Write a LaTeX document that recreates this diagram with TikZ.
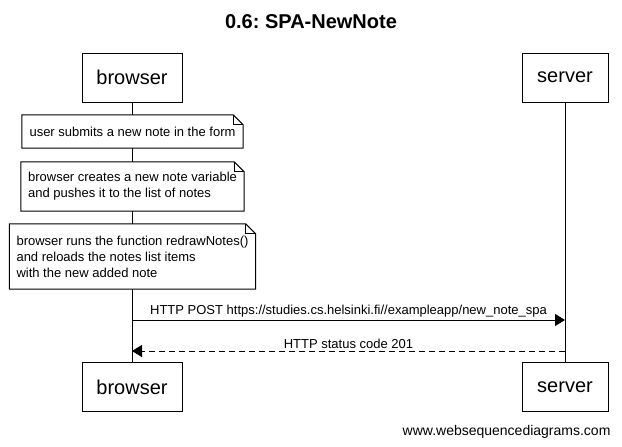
\documentclass[tikz,border=0pt]{standalone}
\usepackage{fontspec}
\setmainfont{Liberation Sans}
\usetikzlibrary{arrows.meta}
\usetikzlibrary{positioning}
\frenchspacing

\tikzset{
  actor/.style={draw, line width=1pt, minimum height=49pt, inner sep=0pt, font=\fontsize{20}{24}\selectfont},
  note/.style={fill=white, inner xsep=7pt, inner ysep=0pt, align=left, font=\fontsize{13}{16}\selectfont},
  msg/.style={line width=1pt, -{Triangle[length=10pt,width=12pt]}},
  reply/.style={msg, dash pattern=on 6pt off 4pt},
  msglabel/.style={font=\fontsize{13}{16}\selectfont, inner sep=2pt}
}

% outline of a note with a folded corner
\newcommand{\dogear}[1]{%
  \draw[line width=1pt] (#1.north west) -- ([xshift=-10pt]#1.north east) -- ([yshift=-10pt]#1.north east) -- (#1.south east) -- (#1.south west) -- cycle;
  \draw[line width=1pt] ([xshift=-10pt]#1.north east) -- ([xshift=-10pt,yshift=-10pt]#1.north east) -- ([yshift=-10pt]#1.north east);}

\begin{document}
\begin{tikzpicture}[x=1pt,y=1pt]
        \useasboundingbox (0,0) rectangle (622,-447);
        \node[font=\bfseries\fontsize{20}{24}\selectfont] (title) at (311,-22) {0.6: SPA-NewNote};
        % participants
        \node[actor, minimum width=100pt] (browserTop) at (132,-77.5) {browser};
        \node[actor, minimum width=86pt] (serverTop) at (565,-77.5) {server};
        \node[actor, minimum width=100pt] (browserBot) at (132,-387) {browser};
        \node[actor, minimum width=86pt] (serverBot) at (565,-387) {server};
        \draw[line width=1pt] (browserTop) -- (browserBot);
        \draw[line width=1pt] (serverTop) -- (serverBot);
        % notes
        \node[note, minimum width=221pt, minimum height=33pt] (noteSubmit) at (132.5,-131.5) {user submits a new note in the form};
        \dogear{noteSubmit}
        \node[note, minimum width=221pt, minimum height=49pt] (noteCreate) at (132.5,-186.5) {browser creates a new note variable\\and pushes it to the list of notes};
        \dogear{noteCreate}
        \node[note, minimum width=243pt, minimum height=65pt] (noteRedraw) at (132.5,-256.5) {browser runs the function redrawNotes()\\and reloads the notes list items\\with the new added note};
        \dogear{noteRedraw}
        % messages
        \coordinate (postFrom) at (132,-320);
        \coordinate (postTo) at (565,-320);
        \coordinate (replyFrom) at (565,-351);
        \coordinate (replyTo) at (132,-351);
        \draw[msg] (postFrom) -- node[msglabel, above] {HTTP POST https://studies.cs.helsinki.fi//exampleapp/new\_note\_spa} (postTo);
        \draw[reply] (replyFrom) -- node[msglabel, above] {HTTP status code 201} (replyTo);
        \node[font=\fontsize{14}{16}\selectfont, anchor=east] (credit) at (614,-432) {www.websequencediagrams.com};
\end{tikzpicture}
\end{document}
